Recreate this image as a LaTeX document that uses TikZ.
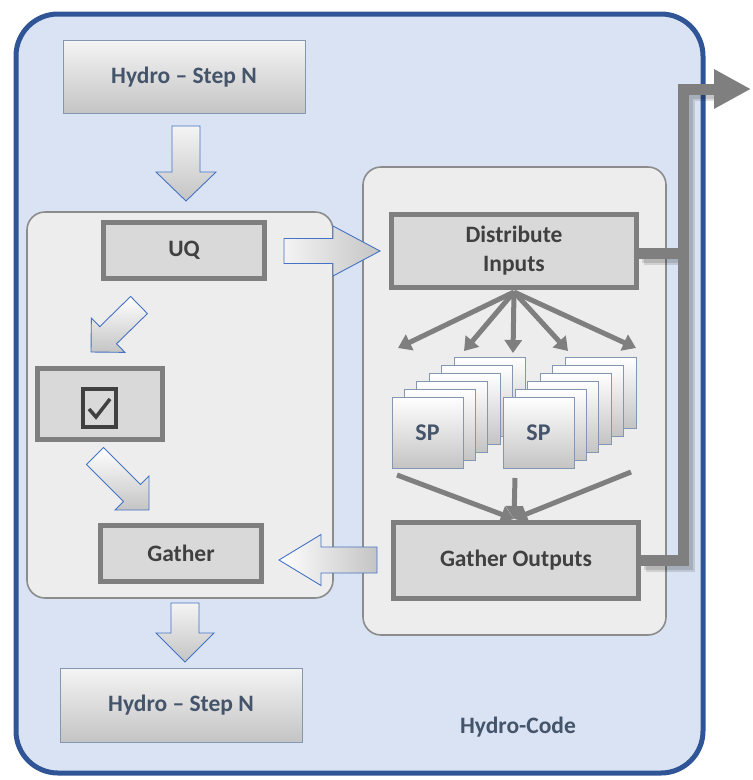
\documentclass[tikz,border=0pt]{standalone}
\usepackage{fontspec}
\setmainfont{Carlito}
\usetikzlibrary{arrows.meta,calc}

\definecolor{outerfill}{HTML}{DAE3F3}
\definecolor{outerline}{HTML}{2F5597}
\definecolor{panelfill}{HTML}{EDEDED}
\definecolor{panelline}{HTML}{8C8C8C}
\definecolor{procfill}{HTML}{D9D9D9}
\definecolor{procline}{HTML}{7F7F7F}
\definecolor{slate}{HTML}{44546A}
\definecolor{darktext}{HTML}{404040}
\definecolor{arrowline}{HTML}{4472C4}
\definecolor{hydroline}{HTML}{8497B0}
\definecolor{shadetop}{HTML}{F4F4F4}
\definecolor{shadebot}{HTML}{C4C4C4}

\tikzset{
  panel/.style={draw=panelline, line width=1.6pt, fill=panelfill, rounded corners=18pt, inner sep=0pt},
  procbox/.style={draw=procline, line width=5pt, fill=procfill, text=darktext, inner sep=0pt,
    font=\bfseries\fontsize{23.5}{29}\selectfont, align=center},
  hydrobox/.style={draw=hydroline, line width=1pt, top color=shadetop, bottom color=shadebot,
    text=slate, inner sep=0pt, font=\bfseries\fontsize{23.5}{28}\selectfont,
    minimum width=242pt, minimum height=73pt},
  spbox/.style={draw=hydroline, line width=1pt, top color=white, bottom color=shadebot,
    text=slate, inner sep=0pt, font=\bfseries\fontsize{24}{28}\selectfont,
    minimum width=71pt, minimum height=71pt},
  blockarrow/.style={draw=arrowline, line width=0.9pt},
  fanarrow/.style={draw=procline, line width=5pt, -{Triangle[length=13pt,width=17pt]}},
  busline/.style={draw=procline, line width=11pt, miter limit=20},
  busshadow/.style={draw=black, line width=13pt, opacity=0.12, miter limit=20},
}

% block arrow: name, from, to, shaft half width, head half width, head length
\newcommand\blockarr[7][]{%
  \coordinate (#2-base) at ($(#4)!#7!(#3)$);
  \path[blockarrow,#1]
    ($(#3)!#5!90:(#4)$) -- ($(#2-base)!#5!-90:(#3)$) -- ($(#2-base)!#6!-90:(#3)$) -- (#4)
    -- ($(#2-base)!#6!90:(#3)$) -- ($(#2-base)!#5!90:(#3)$) -- ($(#3)!#5!-90:(#4)$) -- cycle;
}

\begin{document}
\begin{tikzpicture}[x=1pt,y=-1pt]
\useasboundingbox (0,0) rectangle (753,780);

% outer frame of the hydro-code
\path[draw=outerline, line width=5pt, fill=outerfill, rounded corners=42pt]
  (16,14) rectangle (703,773);

% the two inner panels
\node[panel, minimum width=306pt, minimum height=386pt] (left) at (180,405) {};
\node[panel, minimum width=303pt, minimum height=468pt] (right) at (514.5,401) {};

% hydro steps
\node[hydrobox] (hyd1) at (184,77) {Hydro – Step N};
\node[hydrobox, minimum height=74pt] (hyd2) at (181,705) {Hydro – Step N};

% left panel boxes
\node[procbox, minimum width=161pt, minimum height=56pt] (uq) at (184,250.5) {UQ};
\node[procbox, minimum width=125pt, minimum height=71pt] (chk) at (100,404) {};
\node[procbox, minimum width=161pt, minimum height=56pt] (gat) at (181,553.5) {Gather};

% check mark icon
\draw[draw=darktext, line width=3.5pt] (83,389) rectangle (116,427);
\draw[draw=darktext, line width=3.5pt, line join=miter] (89,409) -- (96,417) -- (110,399);

% right panel boxes
\node[procbox, minimum width=245pt, minimum height=73pt] (dist) at (514,251) {Distribute\\Inputs};
\node[procbox, minimum width=245pt, minimum height=76pt] (gout) at (516,560.5) {Gather Outputs};

% stacks of SP boxes
\foreach \i in {5,4,...,1} {
  \node[spbox] (spL\i) at ({427.5+12.4*\i},{432.5-8*\i}) {};
  \node[spbox] (spR\i) at ({538.5+12.4*\i},{432.5-8*\i}) {};
}
\node[spbox] (spL) at (427.5,432.5) {SP};
\node[spbox] (spR) at (538.5,432.5) {SP};

% fan out from the distributor
\coordinate (dsrc) at (514,292);
\coordinate (f1) at (398,348);
\coordinate (f2) at (464,351);
\coordinate (f3) at (513,353);
\coordinate (f4) at (568,351);
\coordinate (f5) at (636,348);
\foreach \t in {f1,f2,f3,f4,f5} \draw[fanarrow] (dsrc) -- (\t);

% fan in to the output gatherer
\coordinate (g1) at (397,475);
\coordinate (g2) at (515,478);
\coordinate (g3) at (631,472);
\coordinate (gdst) at (514,519);
\foreach \s in {g1,g2,g3} \draw[fanarrow] (\s) -- (gdst);

% bus leaving the hydro-code, with its soft shadow
\coordinate (bustop) at (683,89);
\coordinate (busout) at (751,89);
\coordinate (busx1) at ($(dist.east -| bustop)+(0,2)$);
\coordinate (busx2) at (gout.east -| bustop);
\coordinate (busd) at ($(dist.east)+(0,2)$);
\foreach \dx/\dy in {3/-3,5/-5} {
  \begin{scope}[transform canvas={shift={(\dx pt,\dy pt)}}]
    \draw[busshadow] (busd) -- (busx1);
    \draw[busshadow] (gout.east) -- (busx2) -- (bustop) -- ($(busout)+(-30,0)$);
  \end{scope}
}
\draw[busline] (busd) -- (busx1);
\draw[busline, -{Triangle[length=37pt,width=37pt]}] (gout.east) -- (busx2) -- (bustop) -- (busout);

% block arrows
\coordinate (a1s) at (186,126);  \coordinate (a1t) at (186,201);
\coordinate (a2s) at (284,251);  \coordinate (a2t) at (380,251);
\coordinate (a3s) at (139,305);  \coordinate (a3t) at (91,352);
\coordinate (a4s) at (95,456);   \coordinate (a4t) at (149,510);
\coordinate (a5s) at (377,560);  \coordinate (a5t) at (279,560);
\coordinate (a6s) at (185,603);  \coordinate (a6t) at (185,662);
\blockarr[top color=shadetop, bottom color=shadebot]{a1}{a1s}{a1t}{14pt}{30pt}{29pt}
\blockarr[left color=shadetop, right color=shadebot]{a2}{a2s}{a2t}{12.5pt}{25pt}{47pt}
\blockarr[top color=white, bottom color=shadebot]{a3}{a3s}{a3t}{12pt}{24pt}{24pt}
\blockarr[top color=white, bottom color=shadebot]{a4}{a4s}{a4t}{12pt}{24pt}{24pt}
\blockarr[left color=white, right color=shadebot]{a5}{a5s}{a5t}{13pt}{25.5pt}{42pt}
\blockarr[top color=shadetop, bottom color=shadebot]{a6}{a6s}{a6t}{14pt}{29pt}{29pt}

% label of the frame
\node[text=slate, font=\bfseries\fontsize{23.5}{28}\selectfont] (code) at (518,727) {Hydro-Code};
\end{tikzpicture}
\end{document}
